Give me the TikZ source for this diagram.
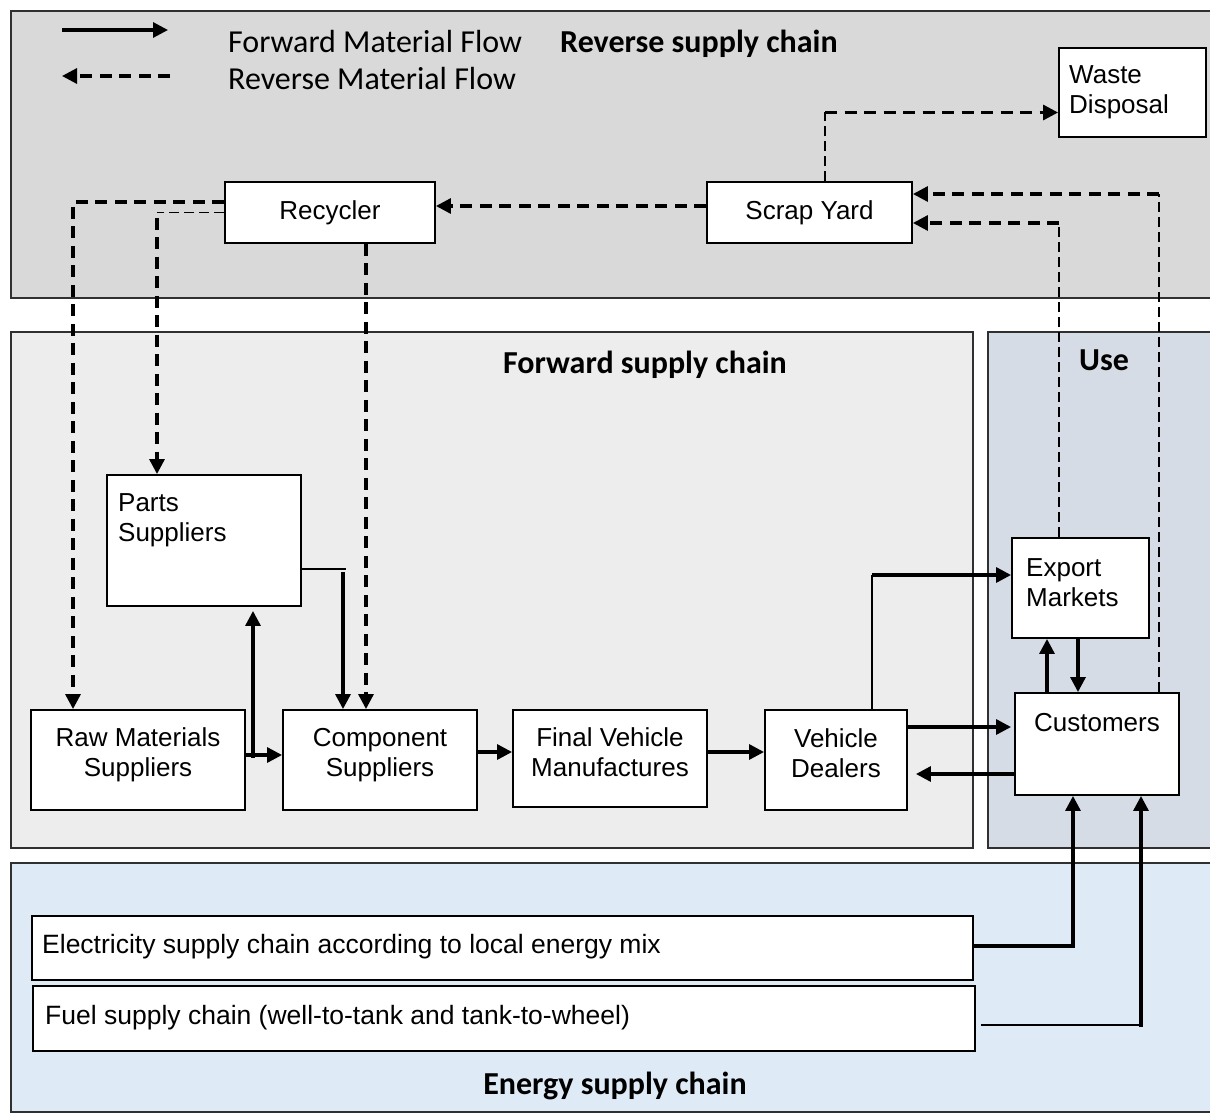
\documentclass[tikz,border=0pt]{standalone}
\usepackage{fontspec}
\setmainfont{Liberation Sans}
\newfontfamily\calibri{Carlito}
\usetikzlibrary{arrows.meta,calc}
\definecolor{revfill}{HTML}{D9D9D9}
\definecolor{fwdfill}{HTML}{EDEDED}
\definecolor{usefill}{HTML}{D6DCE5}
\definecolor{nrgfill}{HTML}{DEEAF6}
\definecolor{framecol}{HTML}{303030}
\newcommand\bxfont{\fontsize{26}{30}\selectfont}
\begin{document}
\begin{tikzpicture}[x=1pt,y=-1pt,
  panel/.style={draw=framecol, line width=1.9pt},
  box/.style={draw=black, line width=1.9pt, fill=white, inner sep=0pt, font=\bxfont},
  txt/.style={inner sep=0pt, font=\bxfont, align=left},
  ctxt/.style={inner sep=0pt, font=\bxfont, align=center},
  title/.style={inner sep=0pt, font=\calibri\bfseries\fontsize{32}{36}\selectfont},
  legendtext/.style={inner sep=0pt, font=\calibri\fontsize{32}{37}\selectfont},
  tip/.style={-{Triangle[length=15pt,width=15pt]}},
  flow/.style={line width=3.2pt, tip},
  rflow/.style={line width=3.2pt, dash pattern=on 12pt off 7.5pt, tip},
  tdash/.style={line width=2pt, dash pattern=on 10pt off 5pt},
  thinline/.style={line width=2pt}]

\useasboundingbox (0,0) rectangle (1210,1113);
\clip (0,0) rectangle (1210,1113);
\fill[white] (0,0) rectangle (1210,1113);

% background panels
\draw[panel, fill=revfill] (11,11) rectangle (1225,298);
\draw[panel, fill=fwdfill] (11,332) rectangle (973,848);
\draw[panel, fill=usefill] (988,332) rectangle (1225,848);
\draw[panel, fill=nrgfill] (11,863) rectangle (1225,1112);

% panel titles and legend text
\node[legendtext, anchor=base west] (lf) at (228,53) {Forward Material Flow};
\node[legendtext, anchor=base west] (lr) at (228,90) {Reverse Material Flow};
\node[title, anchor=base west] (trev) at (560,53) {Reverse supply chain};
\node[title, anchor=base] (tfwd) at (645,373) {Forward supply chain};
\node[title, anchor=base] (tuse) at (1104,370) {Use};
\node[title, anchor=base] (tnrg) at (615,1094) {Energy supply chain};

% legend arrows
\coordinate (l1a) at (62,30);
\coordinate (l1b) at (168,30);
\coordinate (l2a) at (170,76);
\coordinate (l2b) at (62,76);
\draw[flow] (l1a) -- (l1b);
\draw[rflow] (l2a) -- (l2b);

% boxes
\node[box, minimum width=147, minimum height=89] (waste) at (1132.5,92.5) {};
\node[box, minimum width=210, minimum height=61] (rec) at (330,212.5) {Recycler};
\node[box, minimum width=205, minimum height=61] (scrap) at (809.5,212.5) {Scrap Yard};
\node[box, minimum width=194, minimum height=131] (parts) at (204,540.5) {};
\node[box, minimum width=214, minimum height=100] (raw) at (138,760) {};
\node[box, minimum width=194, minimum height=100] (comp) at (380,760) {};
\node[box, minimum width=194, minimum height=97] (final) at (610,758.5) {};
\node[box, minimum width=142, minimum height=100] (dealer) at (836,760) {};
\node[box, minimum width=137, minimum height=100] (export) at (1080.5,588) {};
\node[box, minimum width=164, minimum height=102] (cust) at (1097,744) {};
\node[box, minimum width=941, minimum height=64] (elec) at (502.5,948) {};
\node[box, minimum width=942, minimum height=65] (fuel) at (504,1018.5) {};

% box texts
\node[txt, anchor=north west] (waste-t) at (1069,65) {Waste\\Disposal};
\node[txt, anchor=north west] (parts-t) at (118,493) {Parts\\Suppliers};
\node[txt, anchor=north west] (export-t) at (1026,558) {Export\\Markets};
\node[txt, anchor=north] (cust-t) at (1097,713) {Customers};
\node[ctxt] (raw-t) at ([yshift=5pt]raw.center) {Raw Materials\\Suppliers};
\node[ctxt] (comp-t) at ([yshift=5pt]comp.center) {Component\\Suppliers};
\node[ctxt] (final-t) at ([yshift=6pt]final.center) {Final Vehicle\\Manufactures};
\node[ctxt] (dealer-t) at ([yshift=7pt]dealer.center) {Vehicle\\Dealers};
\node[txt, anchor=base west, font=\fontsize{26.5}{30}\selectfont] (elec-t) at (42,953) {Electricity supply chain according to local energy mix};
\node[txt, anchor=base west, font=\fontsize{26.5}{30}\selectfont] (fuel-t) at (45,1024) {Fuel supply chain (well-to-tank and tank-to-wheel)};

% reverse material flow
\draw[rflow] ([yshift=6.5pt]scrap.west) -- ([yshift=6.5pt]rec.east);
\draw[rflow] ([yshift=10.5pt]rec.west) -| ([xshift=-65pt]raw.north);
\coordinate (pk) at ([xshift=-47pt]parts.north);
\draw[tdash, line width=1.4pt] (rec.west) -- (rec.west -| pk);
\draw[rflow] ([yshift=-5pt]rec.west -| pk) -- (pk);
\coordinate (cin) at ([xshift=-14pt]comp.north);
\draw[rflow] (rec.south -| cin) -- (cin);
\coordinate (sa) at ([xshift=15.5pt]scrap.north);
\coordinate (wa) at ([yshift=-20pt]waste.west);
\draw[tdash] (sa) -- (sa |- wa);
\draw[rflow] (sa |- wa) -- (wa);
\coordinate (ea) at ([xshift=-21.5pt]export.north);
\coordinate (sb) at ([yshift=-10.5pt]scrap.east);
\draw[tdash] (ea) -- (ea |- sb);
\draw[rflow] (ea |- sb) -- (sb);
\coordinate (cu) at ([xshift=62pt]cust.north);
\coordinate (sc) at ([yshift=18.5pt]scrap.east);
\draw[tdash] (cu) -- (cu |- sc);
\draw[rflow] (cu |- sc) -- (sc);

% forward material flow
\coordinate (ca) at ([xshift=-37pt]comp.north);
\coordinate (pa) at ([yshift=-28.5pt]parts.east);
\draw[thinline] (pa) -- ([xshift=3pt]pa -| ca);
\draw[flow] ([yshift=-3pt]pa -| ca) -- (ca);
\draw[flow] ([yshift=5pt]raw.east) -- ([yshift=5pt]raw.east -| comp.west);
\coordinate (pb) at ([xshift=49pt]parts.south);
\draw[flow, shorten >=4pt] ([yshift=2pt]raw.east -| pb) -- (pb);
\draw[flow] ([yshift=8pt]comp.east) -- ([yshift=8pt]comp.east -| final.west);
\draw[flow] ([yshift=6.5pt]final.east) -- ([yshift=6.5pt]final.east -| dealer.west);
\coordinate (da) at ([xshift=36pt]dealer.north);
\coordinate (xa) at ([yshift=13pt]export.west);
\draw[thinline] (da) -- (da |- xa);
\draw[flow] (da |- xa) -- (xa);
\draw[flow, shorten >=3pt] ([yshift=33pt]dealer.east) -- ([yshift=33pt]dealer.east -| cust.west);
\draw[flow, shorten >=8pt] ([yshift=-30pt]cust.west) -- ([yshift=-30pt]cust.west -| dealer.east);
\draw[flow] ([xshift=-50pt]cust.north) -- ([xshift=-50pt]cust.north |- export.south);
\draw[flow] ([xshift=-2.5pt]export.south) -- ([xshift=-2.5pt]export.south |- cust.north);
\draw[flow] ([yshift=2pt]elec.east) -| ([xshift=-24pt]cust.south);
\coordinate (fa) at ([yshift=-6.5pt,xshift=5pt]fuel.east);
\coordinate (fb) at ([xshift=44pt]cust.south);
\draw[thinline] (fa) -- ([xshift=-2pt]fa -| fb);
\draw[flow] ([yshift=-2pt]fa -| fb) -- (fb);
\end{tikzpicture}
\end{document}
